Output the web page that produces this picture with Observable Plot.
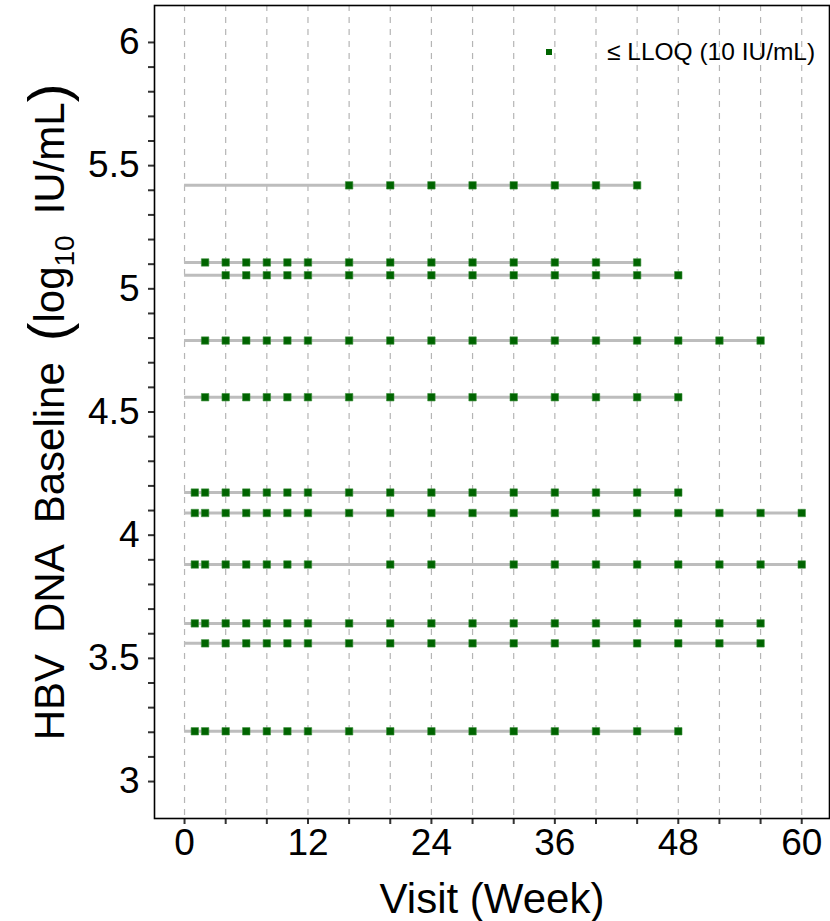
<!DOCTYPE html>
<html>
<head>
<meta charset="utf-8">
<script src="https://cdn.jsdelivr.net/npm/d3@7"></script>
<script src="https://cdn.jsdelivr.net/npm/@observablehq/plot@0.6"></script>
<style>
  body { margin: 0; background: white; }
  #chart { position: relative; width: 830px; height: 921px; }
</style>
</head>
<body>
<div id="chart"></div>
<script>
// ---- Data ----
const baseline  = [5.42, 5.107, 5.055, 4.79, 4.56, 4.173, 4.09, 3.881, 3.642, 3.561, 3.204];
const lastVisit = [44, 44, 48, 56, 48, 48, 60, 60, 56, 56, 48];
const lloqWeeks = [
  [16, 20, 24, 28, 32, 36, 40, 44],
  [2, 4, 6, 8, 10, 12, 16, 20, 24, 28, 32, 36, 40, 44],
  [4, 6, 8, 10, 12, 16, 20, 24, 28, 32, 36, 40, 44, 48],
  [2, 4, 6, 8, 10, 12, 16, 20, 24, 28, 32, 36, 40, 44, 48, 52, 56],
  [2, 4, 6, 8, 10, 12, 16, 20, 24, 28, 32, 36, 40, 44, 48],
  [1, 2, 4, 6, 8, 10, 12, 16, 20, 24, 28, 32, 36, 40, 44, 48],
  [1, 2, 4, 6, 8, 10, 12, 16, 20, 24, 28, 32, 36, 40, 44, 48, 52, 56, 60],
  [1, 2, 4, 6, 8, 10, 12, 20, 24, 32, 36, 40, 44, 48, 52, 56, 60],
  [1, 2, 4, 6, 8, 10, 12, 16, 20, 24, 28, 32, 36, 40, 44, 48, 52, 56],
  [2, 4, 6, 8, 10, 12, 16, 20, 24, 28, 32, 36, 40, 44, 48, 52, 56],
  [1, 2, 4, 6, 8, 10, 12, 16, 20, 24, 28, 32, 36, 40, 44, 48]
];
const xTicks = [0, 12, 24, 36, 48, 60];
const xMinorTicks = [0, 4, 8, 12, 16, 20, 24, 28, 32, 36, 40, 44, 48, 52, 56, 60];
const yTicks = [3, 3.5, 4, 4.5, 5, 5.5, 6];
const yMinorTicks = d3.range(30, 61).map(v => v / 10);
const legendLabel = "\u2264 LLOQ (10 IU/mL)";

// ---- Tables ----
const rows = baseline.map((b, i) => ({baseline: b, start: 0, end: lastVisit[i]}));
const points = lloqWeeks.flatMap((weeks, i) => weeks.map(w => ({week: w, baseline: baseline[i]})));

const FONT = "'Liberation Sans', Arial, Helvetica, sans-serif";
const isMajor = v => yTicks.some(t => Math.abs(t - v) < 1e-6);

const plot = Plot.plot({
  width: 830,
  height: 921,
  marginLeft: 154,
  marginRight: 1,
  marginTop: 5,
  marginBottom: 103,
  style: {fontFamily: FONT, background: "white", color: "black"},
  x: {domain: [-2.92, 62.7]},
  y: {domain: [2.85, 6.15]},
  marks: [
    Plot.gridX(xMinorTicks, {stroke: "#b5b5b5", strokeOpacity: 1, strokeWidth: 1.2, strokeDasharray: "6,6"}),
    Plot.ruleY(rows, {y: "baseline", x1: "start", x2: "end", stroke: "#bdbdbd", strokeWidth: 3}),
    Plot.dot(points, {x: "week", y: "baseline", symbol: "square", r: 4.2, fill: "#006400", stroke: "#3a8f3a", strokeWidth: 0.6}),
    Plot.axisY({
      ticks: yMinorTicks, tickSize: 6, tickPadding: 9, fontSize: 37,
      stroke: "#333", strokeWidth: 2, label: null,
      tickFormat: v => isMajor(v) ? d3.format("")(+v.toFixed(1)) : ""
    }),
    Plot.axisX({
      ticks: xMinorTicks, tickSize: 6, tickPadding: 4, fontSize: 37,
      stroke: "#333", strokeWidth: 2, label: null,
      tickFormat: v => xTicks.includes(v) ? String(v) : ""
    }),
    Plot.frame({stroke: "black", strokeWidth: 1.6})
  ]
});

document.getElementById("chart").appendChild(plot);

// ---- Titles and legend ----
const svg = d3.select(plot);

svg.append("text")
  .attr("x", 492).attr("y", 913)
  .attr("text-anchor", "middle")
  .attr("font-family", FONT).attr("font-size", 42).attr("fill", "black")
  .text("Visit (Week)");

const yt = svg.append("text")
  .attr("transform", "translate(64,412) rotate(-90)")
  .attr("text-anchor", "middle")
  .attr("font-family", FONT).attr("font-size", 42).attr("fill", "black");
yt.append("tspan").text("HBV\u2002DNA\u2002Baseline\u2002");
yt.append("tspan").attr("font-size", 56).attr("dy", 3).text("(");
yt.append("tspan").attr("dy", -3).text("log");
yt.append("tspan").attr("font-size", 28).attr("dy", 10).text("10");
yt.append("tspan").attr("dy", -10).text("\u2002IU/mL");
yt.append("tspan").attr("font-size", 56).attr("dy", 3).text(")");

const lg = svg.append("g");
lg.append("rect")
  .attr("x", 546).attr("y", 49).attr("width", 6).attr("height", 6)
  .attr("fill", "#006400");
lg.append("text")
  .attr("x", 607).attr("y", 60)
  .attr("text-anchor", "start")
  .attr("font-family", FONT).attr("font-size", 24.5).attr("fill", "black")
  .text(legendLabel);
</script>
</body>
</html>
